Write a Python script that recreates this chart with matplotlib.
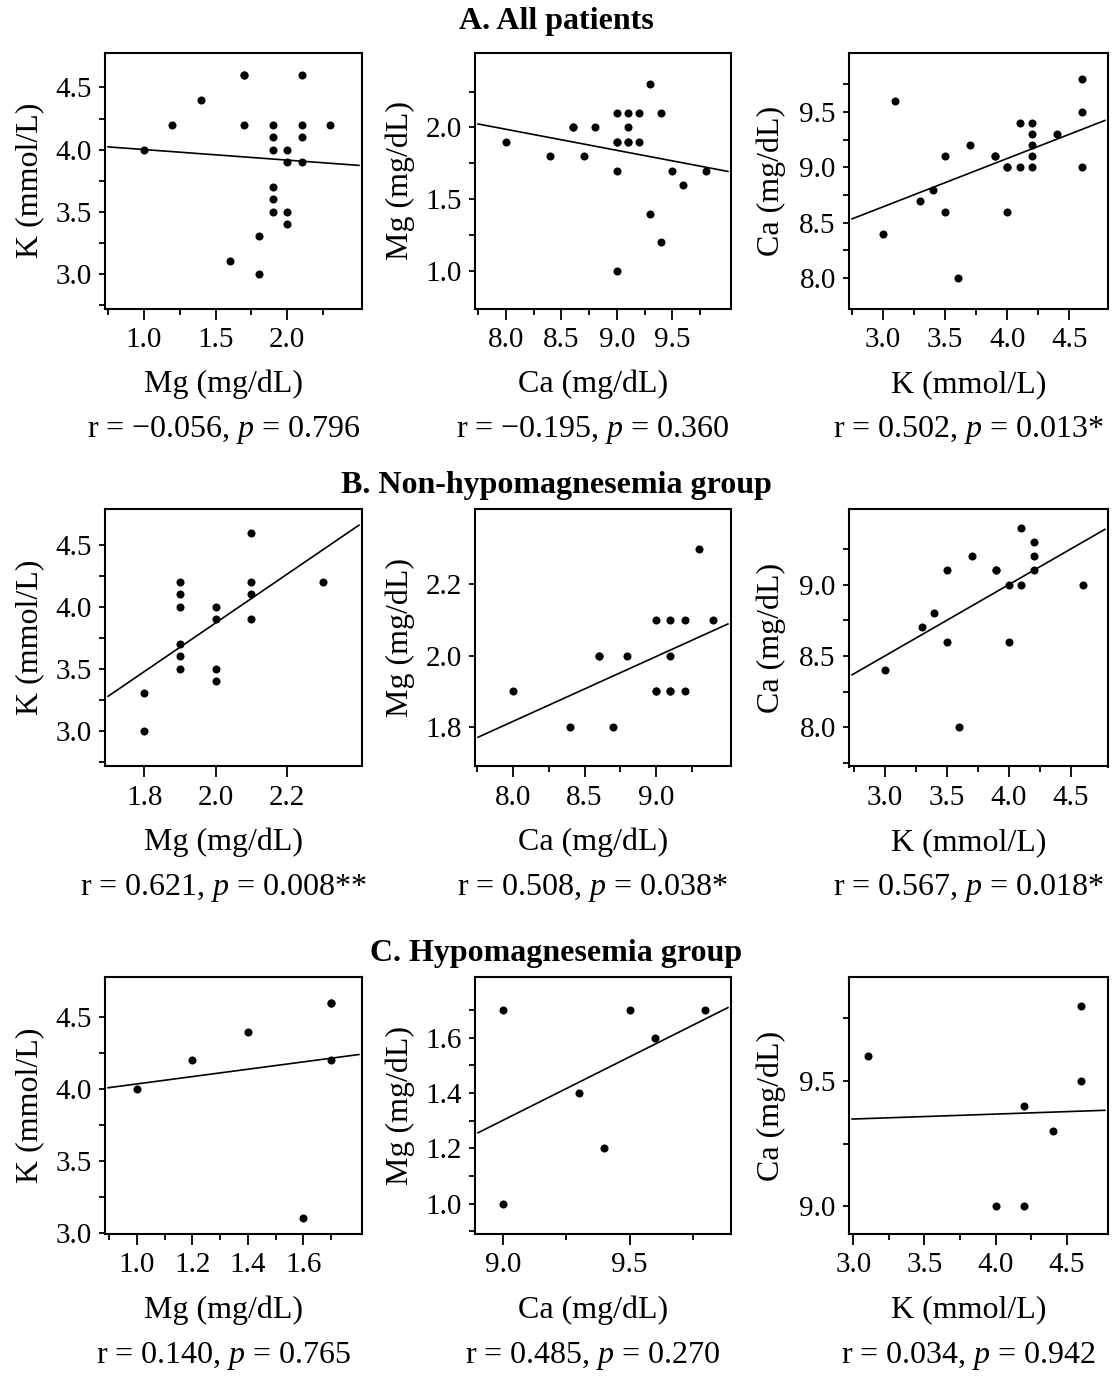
import numpy as np
import matplotlib
matplotlib.use("Agg")
import matplotlib.pyplot as plt
from matplotlib.ticker import FixedLocator, FormatStrFormatter

# ---------------- data (per patient) ----------------
# Non-hypomagnesemia group (n = 17)
mg_non = [1.8, 1.8, 2.3, 2.1, 2.1, 2.1, 2.1, 2.0, 2.0, 2.0, 2.0, 1.9, 1.9, 1.9, 1.9, 1.9, 1.9]
k_non = [3.3, 3.0, 4.2, 4.6, 4.1, 4.2, 3.9, 3.9, 3.4, 3.5, 4.0, 3.7, 4.2, 4.0, 4.1, 3.5, 3.6]
ca_non = [8.7, 8.4, 9.3, 9.0, 9.4, 9.2, 9.1, 9.1, 8.8, 8.6, 8.6, 9.2, 9.1, 9.0, 9.0, 9.1, 8.0]

# Hypomagnesemia group (n = 7)
mg_hypo = [1.0, 1.2, 1.4, 1.6, 1.7, 1.7, 1.7]
k_hypo = [4.0, 4.2, 4.4, 3.1, 4.6, 4.6, 4.2]
ca_hypo = [9.0, 9.4, 9.3, 9.6, 9.8, 9.5, 9.0]

group_titles = ["A. All patients", "B. Non-hypomagnesemia group", "C. Hypomagnesemia group"]
x_labels = ["Mg (mg/dL)", "Ca (mg/dL)", "K (mmol/L)"]
y_labels = ["K (mmol/L)", "Mg (mg/dL)", "Ca (mg/dL)"]

r_values = [["\u22120.056", "\u22120.195", "0.502"],
            ["0.621", "0.508", "0.567"],
            ["0.140", "0.485", "0.034"]]
p_values = [["0.796", "0.360", "0.013*"],
            ["0.008**", "0.038*", "0.018*"],
            ["0.765", "0.270", "0.942"]]

# ---------------- style ----------------
plt.rcParams['font.family'] = ['Liberation Serif', 'DejaVu Serif']
plt.rcParams['mathtext.fontset'] = 'custom'
plt.rcParams['mathtext.rm'] = 'Liberation Serif'
plt.rcParams['mathtext.it'] = 'Liberation Serif:italic'

W, H = 1113, 1379
fig = plt.figure(figsize=(W / 100, H / 100), dpi=100)

col_px = [(105, 362), (475, 731), (849, 1108)]
row_px = [(52.7, 308.5), (509, 766.5), (977.3, 1234)]
title_y = [22, 485, 953]
ylab_x = [30, 400, 771]

TICK_FS = 21
LAB_FS = 23

# axis configuration per panel: (xlim, ylim, x_major, x_minor, y_major, y_minor)
cfg = {
    (0, 0): ((0.73, 2.52), (2.72, 4.78), [1.0, 1.5, 2.0], [0.75, 1.25, 1.75, 2.25],
             [3.0, 3.5, 4.0, 4.5], [2.75, 3.25, 3.75, 4.25]),
    (0, 1): ((7.72, 10.03), (0.74, 2.52), [8.0, 8.5, 9.0, 9.5], [7.75, 8.25, 8.75, 9.25, 9.75],
             [1.0, 1.5, 2.0], [1.25, 1.75, 2.25]),
    (0, 2): ((2.727, 4.81), (7.726, 10.036), [3.0, 3.5, 4.0, 4.5], [2.75, 3.25, 3.75, 4.25],
             [8.0, 8.5, 9.0, 9.5], [8.25, 8.75, 9.25, 9.75]),
    (1, 0): ((1.69, 2.41), (2.71, 4.79), [1.8, 2.0, 2.2], [],
             [3.0, 3.5, 4.0, 4.5], [2.75, 3.25, 3.75, 4.25]),
    (1, 1): ((7.734, 9.524), (1.689, 2.411), [8.0, 8.5, 9.0], [7.75, 8.25, 8.75, 9.25],
             [1.8, 2.0, 2.2], []),
    (1, 2): ((2.712, 4.80), (7.726, 9.53), [3.0, 3.5, 4.0, 4.5], [2.75, 3.25, 3.75, 4.25],
             [8.0, 8.5, 9.0], [7.75, 8.25, 8.75, 9.25]),
    (2, 0): ((0.885, 1.812), (2.99, 4.78), [1.0, 1.2, 1.4, 1.6], [0.9, 1.1, 1.3, 1.5, 1.7],
             [3.0, 3.5, 4.0, 4.5], [3.25, 3.75, 4.25]),
    (2, 1): ((8.888, 9.902), (0.89, 1.818), [9.0, 9.5], [9.25, 9.75],
             [1.0, 1.2, 1.4, 1.6], [0.9, 1.1, 1.3, 1.5, 1.7]),
    (2, 2): ((2.97, 4.79), (8.89, 9.914), [3.0, 3.5, 4.0, 4.5], [3.25, 3.75, 4.25],
             [9.0, 9.5], [9.25, 9.75]),
}

groups = [
    (mg_non + mg_hypo, k_non + k_hypo, ca_non + ca_hypo),
    (mg_non, k_non, ca_non),
    (mg_hypo, k_hypo, ca_hypo),
]

for ri, (mg, k, ca) in enumerate(groups):
    pairs = [(mg, k), (ca, mg), (k, ca)]
    t, b = row_px[ri]
    fig.text(0.5, 1 - title_y[ri] / H, group_titles[ri], ha='center', va='center',
             fontsize=LAB_FS, fontweight='bold')
    for ci, (xs, ys) in enumerate(pairs):
        l, r = col_px[ci]
        ax = fig.add_axes([l / W, 1 - b / H, (r - l) / W, (b - t) / H])
        xlim, ylim, xmaj, xmin, ymaj, ymin = cfg[(ri, ci)]
        xs = np.asarray(xs, float)
        ys = np.asarray(ys, float)
        ax.plot(xs, ys, 'o', color='black', markersize=5.8, markeredgewidth=0, zorder=3)
        slope, intercept = np.polyfit(xs, ys, 1)
        span = xlim[1] - xlim[0]
        xx = np.array([xlim[0] + 0.012 * span, xlim[1] - 0.012 * span])
        ax.plot(xx, intercept + slope * xx, color='black', lw=1.2, zorder=2)
        ax.set_xlim(*xlim)
        ax.set_ylim(*ylim)
        ax.xaxis.set_major_locator(FixedLocator(xmaj))
        ax.xaxis.set_minor_locator(FixedLocator(xmin))
        ax.yaxis.set_major_locator(FixedLocator(ymaj))
        ax.yaxis.set_minor_locator(FixedLocator(ymin))
        ax.xaxis.set_major_formatter(FormatStrFormatter('%.1f'))
        ax.yaxis.set_major_formatter(FormatStrFormatter('%.1f'))
        ax.tick_params(axis='x', which='major', length=8, width=1.3, pad=5, labelsize=TICK_FS)
        ax.tick_params(axis='x', which='minor', length=4, width=1.3)
        ax.tick_params(axis='y', which='both', length=4.5, width=1.3, pad=5, labelsize=TICK_FS)
        for s in ax.spines.values():
            s.set_linewidth(1.5)
        cx = (l + r) / 2 - 10
        fig.text(cx / W, 1 - (b + 76) / H, x_labels[ci], ha='center', va='center', fontsize=LAB_FS)
        fig.text(cx / W, 1 - (b + 122) / H,
                 "r = " + r_values[ri][ci] + ", $\\mathit{p}$ = " + p_values[ri][ci],
                 ha='center', va='center', fontsize=LAB_FS)
        fig.text(ylab_x[ci] / W, 1 - ((t + b) / 2) / H, y_labels[ci], rotation=90,
                 ha='center', va='center', fontsize=LAB_FS)

fig.savefig("out.png", dpi=100)
